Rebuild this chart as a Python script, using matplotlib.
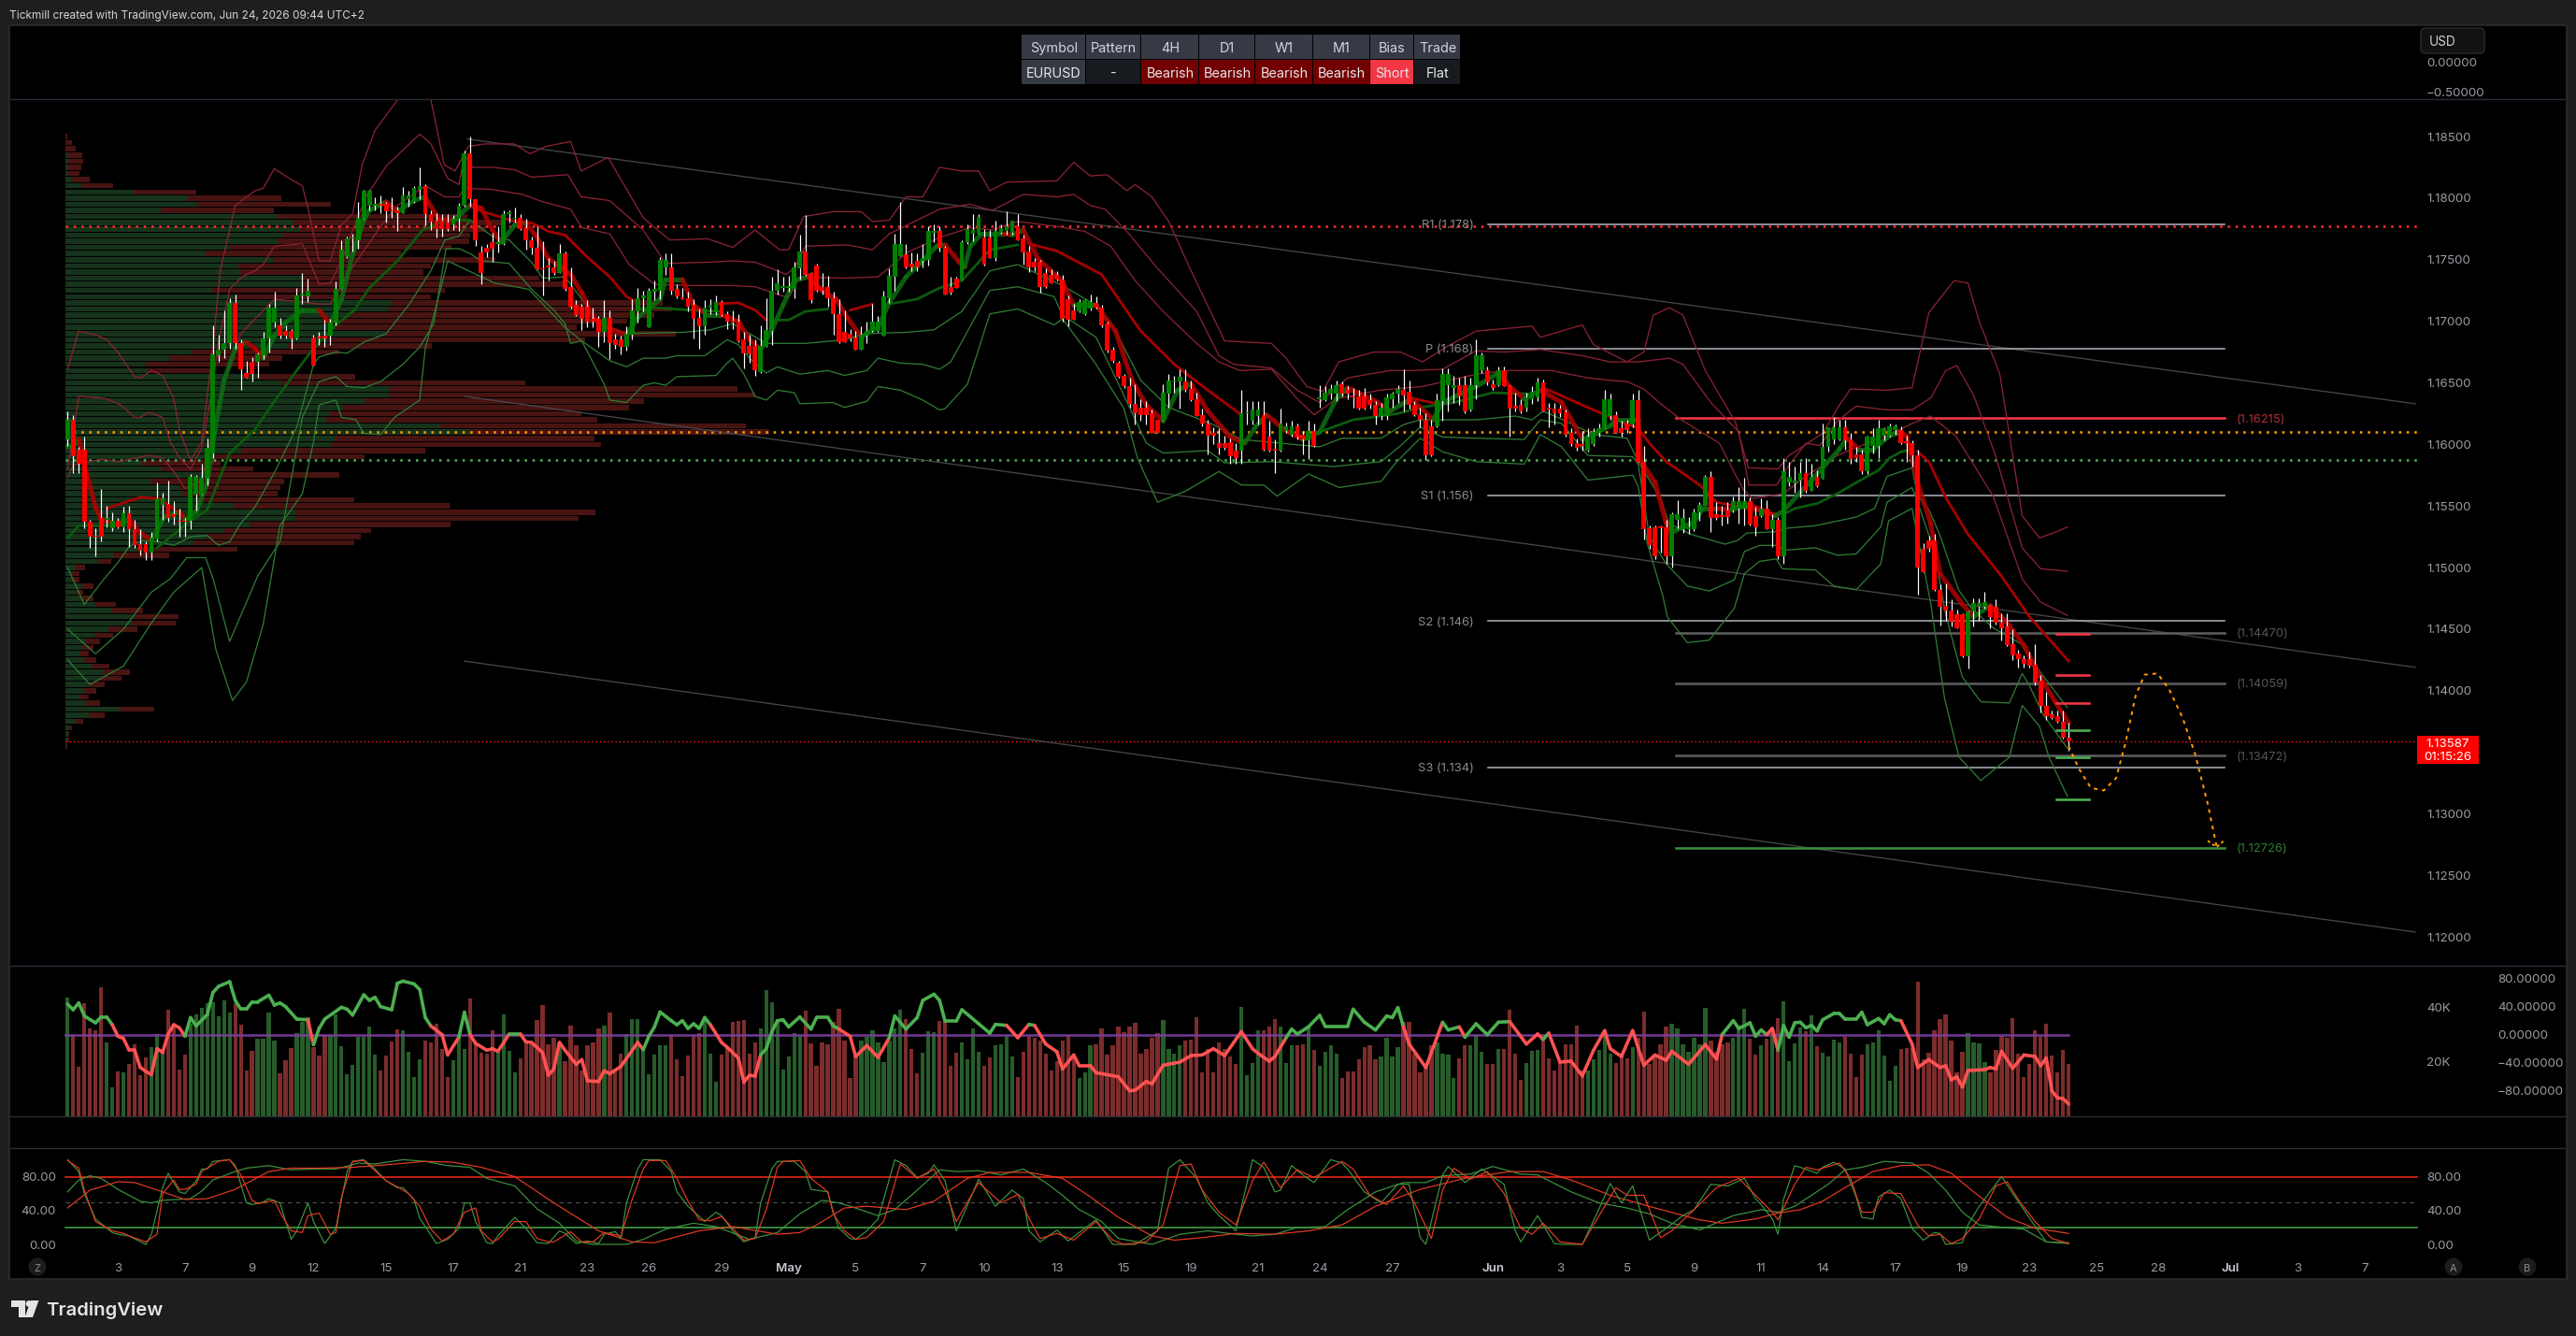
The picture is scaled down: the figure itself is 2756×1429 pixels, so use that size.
import matplotlib
matplotlib.use("Agg")
import matplotlib.pyplot as plt
from matplotlib.collections import LineCollection
from matplotlib.patches import Rectangle, Circle, Polygon, FancyBboxPatch
import numpy as np

plt.rcParams['font.family'] = ['Inter', 'DejaVu Sans']

# prices are written as tenths of a pip above 1.1 (620 -> 1.1620)
opens = [604,620,596,596,537,526,540,539,532,538,
 533,544,531,519,519,512,523,551,552,543,
 538,538,538,559,559,572,593,672,677,682,
 715,682,658,667,667,672,686,699,697,692,
 692,686,721,720,687,687,688,688,699,726,
 752,767,766,783,794,794,795,795,790,790,
 788,799,797,807,810,787,782,782,780,779,
 783,794,836,799,756,760,764,763,763,787,
 783,784,776,766,760,743,745,744,739,755,
 728,713,712,712,702,702,691,703,685,685,
 679,689,708,719,695,724,725,744,744,726,
 719,719,713,703,696,711,707,716,706,700,
 700,685,680,680,659,679,692,725,727,727,
 726,743,757,739,745,728,728,719,706,691,
 690,687,677,688,692,692,688,719,736,753,
 754,747,749,749,750,772,773,760,728,735,
 734,764,771,771,768,768,751,772,773,772,
 777,767,757,748,748,739,738,738,734,718,
 709,708,706,710,715,711,698,677,666,656,
 647,633,630,630,625,620,619,641,651,651,
 651,645,637,624,617,609,601,601,602,595,
 595,625,619,623,624,606,596,595,611,608,
 615,608,603,611,637,636,641,641,649,644,
 639,639,639,636,632,623,623,637,641,644,
 643,632,624,620,615,615,635,648,646,648,
 648,628,648,660,660,649,648,660,647,631,
 632,630,637,638,650,630,629,629,626,609,
 601,600,595,600,609,613,623,624,613,617,
 616,636,586,532,533,533,533,509,539,531,
 531,531,545,550,574,543,542,546,546,548,
 548,554,542,542,548,531,539,509,569,568,
 571,577,562,574,572,598,604,604,614,604,
 592,592,578,599,599,607,607,612,612,602,
 601,591,515,522,522,482,469,465,462,462,
 428,464,468,468,469,468,455,452,438,430,
 426,426,421,408,388,381,379,375,362]
highs = [627,624,598,606,539,532,564,550,545,540,
 549,550,539,531,521,529,569,561,571,554,
 548,540,576,575,584,605,697,689,709,719,
 722,685,668,671,675,691,714,724,703,697,
 694,727,739,735,689,691,701,702,732,766,
 769,771,797,807,807,801,802,797,801,793,
 809,806,810,825,811,790,788,787,787,786,
 796,839,850,799,761,763,772,777,790,790,
 792,787,783,769,777,765,751,749,763,757,
 744,717,714,717,711,704,717,709,690,688,
 696,718,727,725,727,733,752,755,755,730,
 727,724,718,710,717,718,721,717,708,709,
 706,691,689,685,697,719,736,742,736,737,
 748,770,786,740,747,739,737,724,718,709,
 694,692,696,700,714,704,725,743,771,797,
 763,756,755,763,777,779,777,761,736,736,
 766,779,787,787,775,774,782,779,789,782,
 787,770,761,751,750,743,742,741,738,721,
 714,718,718,722,720,713,700,679,668,657,
 654,649,637,635,628,620,649,657,656,661,
 661,652,642,629,620,614,613,607,605,601,
 644,635,635,635,635,619,604,629,618,619,
 617,611,619,617,648,647,649,652,651,647,
 646,644,646,641,635,634,641,643,648,661,
 652,635,630,625,620,641,662,662,656,654,
 656,654,685,675,663,653,663,663,648,642,
 637,642,647,654,653,634,634,632,628,613,
 605,611,613,613,617,644,641,627,619,620,
 641,644,599,534,534,534,539,545,555,548,
 541,548,553,575,578,553,550,553,558,565,
 573,557,549,556,555,543,541,589,586,582,
 586,589,584,579,617,614,622,620,620,609,
 598,596,607,613,620,614,617,616,615,607,
 603,596,520,526,527,486,487,474,466,463,
 465,475,475,480,470,474,463,463,450,433,
 429,432,438,413,399,384,384,384,374]
lows = [599,577,577,532,516,509,521,533,530,532,
 529,517,516,510,506,506,521,539,537,535,
 525,525,531,546,559,567,589,667,670,678,
 678,644,654,651,654,669,675,695,686,686,
 678,685,714,716,664,681,679,681,697,726,
 751,757,759,783,790,790,788,780,784,773,
 788,793,796,799,778,774,768,769,773,774,
 773,793,793,761,730,752,748,756,762,780,
 780,774,758,754,742,721,733,738,739,725,
 710,704,693,695,695,679,683,669,678,673,
 676,685,699,708,695,717,718,738,722,719,
 718,708,686,678,689,706,705,704,694,694,
 683,662,666,656,658,679,681,722,724,724,
 719,734,737,715,724,722,712,689,682,683,
 684,677,677,682,691,691,688,715,725,753,
 743,741,741,744,745,764,757,722,722,727,
 734,763,765,771,745,751,749,771,770,770,
 766,746,740,741,723,727,731,733,700,696,
 701,707,705,709,710,695,675,666,654,646,
 630,616,619,616,609,609,619,630,642,629,
 643,635,623,615,592,600,592,596,584,584,
 584,616,616,616,595,594,577,594,609,606,
 604,592,588,598,630,635,637,635,639,637,
 630,628,628,629,616,620,620,630,634,627,
 629,623,614,587,590,614,619,627,634,632,
 625,627,637,658,648,644,647,647,606,627,
 625,627,633,635,627,614,616,622,606,599,
 595,595,594,599,606,613,620,609,606,609,
 614,586,523,515,507,512,503,500,532,528,
 527,530,538,550,529,539,534,536,545,536,
 534,534,526,541,531,517,507,503,566,561,
 557,561,562,565,572,594,600,603,596,584,
 586,576,576,593,589,603,606,608,600,586,
 582,478,496,513,481,453,457,452,451,427,
 418,452,457,467,451,454,441,436,425,419,
 419,419,404,382,376,377,374,361,351]
closes = [620,590,584,537,525,525,525,540,538,533,
 544,531,518,514,512,524,556,556,540,541,
 537,537,574,574,573,597,673,677,682,715,
 682,661,654,657,673,686,711,711,688,688,
 686,721,722,725,664,686,686,699,726,758,
 767,768,784,806,806,795,794,789,789,788,
 802,802,808,810,787,781,775,775,775,783,
 794,836,799,766,739,756,759,764,787,788,
 784,775,766,760,742,742,744,739,755,726,
 712,705,702,700,700,691,703,682,681,679,
 690,709,719,721,725,726,750,750,725,720,
 718,712,702,696,711,713,716,705,700,699,
 684,674,673,660,680,693,725,731,728,728,
 744,757,738,717,725,725,719,706,683,683,
 686,677,689,692,700,700,720,737,763,763,
 744,744,744,751,773,773,760,722,723,727,
 764,775,774,785,746,751,773,776,777,782,
 766,756,744,744,728,728,731,734,702,701,
 701,716,717,716,711,697,676,668,655,647,
 633,625,624,624,609,609,642,652,652,655,
 644,636,623,617,607,607,597,597,590,589,
 625,626,628,628,596,595,595,617,615,615,
 606,604,611,599,638,642,645,648,641,641,
 638,629,629,632,623,630,638,641,645,640,
 632,624,620,591,591,636,657,657,648,639,
 627,648,672,672,650,646,660,647,629,629,
 627,638,643,650,627,628,625,625,608,600,
 597,599,606,610,613,637,637,609,609,612,
 636,586,531,518,509,532,509,543,543,540,
 533,545,551,574,540,540,541,541,554,554,
 554,535,533,548,531,539,509,578,574,571,
 577,562,574,566,598,614,614,614,603,588,
 589,578,606,606,613,613,615,615,601,601,
 591,500,496,515,482,468,465,456,451,428,
 464,471,471,472,460,455,451,437,429,426,
 422,420,407,388,379,378,375,362,358.7]

# tick volume in thousands, one value per candle
volumes = [43.5,29.7,18.2,41.6,32.2,31.7,47.3,27.1,10.5,16.5,
 16.1,19.3,26.3,15.1,21.6,25.4,30.2,24.8,39.1,32.8,
 17.1,22.7,33.9,37.4,39.7,41.4,41.9,36.8,42.5,37.9,
 41.4,33.6,16.8,23.9,28.5,28.6,37.9,27.7,15.7,20.6,
 25,30.5,34.5,36.2,25.4,22.3,29.7,29.7,37.4,25.6,
 15.4,18.9,29.1,29.1,32.8,22.5,16.8,22.2,27.4,31.9,
 31.4,23.7,14.3,20.8,27.7,27.1,33.9,24.8,14.3,20.6,
 29.9,24.8,43.1,26.5,23.3,23.1,31.7,23.7,37.4,24,
 16.2,21.4,27.1,26.5,35.4,40.8,26.5,28.8,27.1,20.2,
 33.1,25.9,16.8,26.2,27.1,32.2,33.1,37.9,16.8,22.9,
 30.2,35.7,35.7,25.4,15.4,22.5,25.9,25.9,29.9,20.8,
 14.7,22.2,29.4,30.5,36.2,22.9,12.8,22.5,25.4,34.5,
 35.1,35.4,22.9,27.1,32.2,46.2,41.9,35.3,17.1,21.9,
 30.5,29.9,38.7,26.7,18.5,27.1,26.5,34.5,39.4,
 27.7,13.9,23.1,27.7,29,31.7,27.1,19.9,27.7,32.2,
 39.1,35.7,24.7,15.7,23.3,31.1,30.9,35.1,35.1,18.5,
 23.3,27.1,20.8,32.2,23.7,18.5,21.6,25.9,26.5,29.4,
 21.9,14.5,23.7,29.4,28.8,
 27.7,23.1,16.8,20.2,27.7,29.4,22.5,13.9,16.2,25.9,
 26.5,32.2,22.5,25.9,32.8,30.9,32.8,34.2,23.1,24.8,
 28.8,30.5,35.3,24.8,23.1,25.9,27.7,28.2,36.2,16.2,
 24.8,16.2,27.1,24.8,21.9,19.1,40.2,15.1,19.7,31.7,
 31.7,32.8,35.7,32.8,19.7,26.2,25.9,26.5,32.8,24.2,
 18.5,23.7,25.9,23.1,13.9,16.5,16.5,20.8,25.4,25.9,
 20.8,21.9,28.8,21.9,25.4,34.5,34.5,23.1,16.2,18.5,
 25.9,27.1,23.1,22.5,13.9,21.4,26.2,25.9,29.9,23.7,
 19.1,19.1,24.8,24.8,39.1,23.1,13.4,19.7,23.9,24.2,
 28.8,21.4,16.8,19.9,26.3,26.5,33.4,16.8,16.8,20.8,
 24.2,30.5,23.1,19.7,23.1,21.4,25.4,28.8,38.5,19.1,
 22.5,26.5,32.8,33.9,32.2,26.5,23.7,28.8,26.5,39.7,
 27.7,23.7,26.5,27.1,
 28.8,33.4,39.4,28.6,22.5,25.9,28.5,32.5,36,42.2,
 20.2,26.7,32.5,31.3,37,25.7,23.3,21.9,28.1,27.1,
 29.1,23.1,14.4,22.7,26.5,27.1,31.5,22.3,13,18.5,
 24.8,25,25,49.4,
 20.8,23.3,31.5,35.7,37.4,27.9,16.2,23.7,30.5,27.1,
 26.7,19.9,16.2,24.5,29.4,28.8,36,23.1,14.4,19.1,
 31.5,29.3,33.9,22.3,16.2,24.5,19.2]

# volume profile, one row per 5 pips going down from 1.1850
profile_up = [0,0,0,3,3,3,3,6,17,73,131,141,102,227,244,251,232,227,175,150,
 222,185,187,253,255,157,182,349,346,303,274,289,343,280,237,135,111,85,88,205,
 231,346,346,320,297,283,279,401,433,289,284,188,159,82,102,154,91,122,125,142,
 180,246,246,198,170,151,137,95,52,35,10,6,6,
 18,11,18,32,50,73,71,46,31,22,18,15,20,28,41,36,25,20,15,22,57,25,11,4,2,2,1]
profile_total = [2,7,11,18,19,17,15,26,51,140,231,284,223,430,467,450,433,432,413,359,
 460,391,383,507,533,406,391,639,649,630,601,547,653,556,392,293,232,218,154,310,
 492,719,738,619,603,552,569,728,753,566,573,385,320,166,201,293,234,230,227,309,
 411,567,549,412,327,316,309,184,111,49,21,15,15,
 30,19,30,54,83,121,118,77,51,37,30,25,33,47,69,60,42,33,25,37,95,42,19,7,4,4,2]

# envelope bands above and below price: (bar, price)
upper_1 = [(0,573),(1,583),(6,588),(9,586),(14.5,591),(17,589),(19,578),(21,564),(24,571),(26,612),
 (28,652),(31,690),(37,718),(45,714),(47,714),(51,744),(56,777),(59,794),(64,810),(67.5,801),
 (70,801),(71,808),(76,807),(81.4,803),(85,797),(90,791),(92,776),(97,771),(100.5,746),(105,730),
 (111,729),(115,729),(119,729),(123,728),(127,722),(129,719),(131,736),(139,735),(145,736),(150.3,756),
 (156,768),(161.5,776),(165.4,774),(170,781),(177,777),(182,773),(186.6,761),(191,733),(196,708),(202,682),
 (206,667),(209.7,660),(215.4,661),(220,637),(223,624),(227,637),(234.7,644),(242.4,647),(252,657),(257.7,660),
 (265.4,660),(272,654),(276,652),(279,651),(282,645),(285,633),(288.7,620),(295.5,601),(299.7,564),(301.4,556),
 (307,560),(311,574),(316.6,591),(322,601),(327.8,612),(330,617),(333.3,623),(337.8,607),(344.5,558),(349.8,490),
 (353,472),(357.8,461)]
upper_2 = [(0,580),(2,639),(5,638),(7,637),(9.5,632),(12,622),(13,622),(14.5,626),(17,622),(18.4,602),
 (20,589),(22,580),(24,597),(25.7,640),(27,683),(29,726),(31.2,736),(33.5,741),(35,746),(37,761),
 (42,763),(45,730),(47,731),(49,749),(51,774),(53.5,802),(57,826),(63,852),(65,844),(68,816),
 (70,811),(71,835),(72.5,825),(76,825),(80,823),(83,817),(89.5,819),(91.9,801),(97,798),(103,774),
 (107,747),(115,748),(119,749),(123,748),(127,741),(128.5,738),(130,743),(132,761),(139.6,762),(144,758),
 (147,771),(156,791),(161.5,795),(165.4,790),(171,803),(177,801),(180,803),(183,794),(185.6,791),(189.5,773),
 (195,743),(202,708),(206,672),(208.7,665),(215.4,662),(220,644),(224,634),(229,654),(236.6,660),(240.4,660),
 (246,661),(252,676),(257,675),(263.5,677),(271,672),(276,667),(281,667),(286.6,670),(289,665),(294,634),
 (299,610),(300.8,567),(305.8,567),(307,577),(311,601),(313.5,599),(316.6,619),(320,631),(325.5,628),(330,628),
 (333.4,638),(336,660),(338,664),(341,640),(345,590),(349.7,516),(353,499),(357.8,497)]
upper_3 = [(0,661),(2,692),(5,689),(7,685),(9,675),(10,668),(12,655),(13,654),(15,660),(17,656),
 (19,637),(20,612),(22,587),(24,602),(26,678),(27.3,741),(30,794),(33.5,806),(35,808),(37,824),
 (39.3,817),(42,810),(43,792),(45,749),(47,749),(49,778),(51,787),(52.7,827),(55,855),(59.7,884),
 (64.8,884),(67.4,827),(69.3,822),(71.7,842),(74.6,844),(79.9,844),(82.7,836),(85.6,842),(90,846),(91.9,822),
 (96.7,833),(103,784),(107.7,766),(114.5,767),(119,760),(123,774),(127.4,758),(129,758),(131.7,785),(137,789),
 (142,789),(144,781),(147,782),(150,801),(153,801),(156,825),(160,822),(163,822),(165,806),(168,813),
 (177,814),(180,829),(183,818),(186,819),(189.5,806),(191,811),(194,801),(197,781),(201,741),(205,703),
 (207,684),(215.4,682),(218,670),(221.7,647),(224.6,643),(227.4,667),(233.7,675),(238.5,675),(242.4,667),(247,680),
 (252,692),(262,696),(263.5,687),(271,697),(273,681),(279,667),(282,675),(283.7,705),(286.6,711),(289,705),
 (293,660),(298.4,618),(300.7,581),(306,580),(308,591),(314,609),(317,632),(319,645),(325.5,644),(330,646),
 (333,707),(337.5,733),(340,731),(342,700),(345.7,657),(349.7,542),(352.8,524),(355.8,529),(357.8,533)]
lower_1 = [(0,500),(3,470),(6.4,490),(9,504),(11,517),(13.4,522),(16,521),(19,518),(22,525),(25,526),
 (27,518),(29,521),(31,536),(33.5,549),(37,577),(41,614),(44,665),(45,671),(48,675),(50,674),
 (53,683),(57,690),(61,713),(65,741),(67.5,766),(70,769),(72,782),(76,769),(79,766),(83,748),
 (85,735),(89,736),(92,718),(95,698),(100,690),(110,691),(115,693),(119,698),(125,682),(132,682),
 (139,685),(143,690),(150,691),(155,693),(160,708),(165,741),(170,746),(178,729),(184,713),(187.5,692),
 (192,652),(197,630),(205,616),(210,604),(224,598),(228,605),(235,605),(239,616),(242,620),(252,620),
 (259,623),(262,620),(264,627),(268,619),(273,608),(279,605),(281,586),(282.6,574),(285,556),(286.5,536),
 (290.4,527),(296.5,519),(298.8,522),(300.4,528),(305.4,529),(307.7,532),(312.7,534),(320,541),(323.3,548),(325.5,574),
 (330,581),(331,558),(333,547),(335,526),(338.3,482),(340.6,467),(344.5,451),(349.5,438),(352.3,419),(357.8,386)]
lower_2 = [(0,450),(5,430),(10,450),(15,480),(18.4,491),(21.3,508),(24.7,508),(26.1,490),(29,440),(34,493),
 (38,521),(42,622),(45,651),(48,655),(50,647),(53,646),(56,651),(60,665),(63,679),(65.5,698),
 (67.7,759),(70,759),(72,755),(74,749),(79,747),(83,726),(87,709),(89,698),(90,682),(92,684),
 (97,668),(100,663),(103,670),(107,670),(109,672),(114,672),(118,685),(120,681),(122,670),(125,658),
 (127,663),(131,657),(136,660),(139,656),(143,660),(145,670),(149,666),(153,665),(156,661),(158,667),
 (162,700),(165,725),(170,728),(176.5,720),(178,705),(184,687),(187.5,654),(193,601),(196,593),(204,595),
 (207,585),(215.4,586),(221,584),(226.5,582),(235,586),(238.5,599),(242,614),(246,606),(252,605),(260.6,604),
 (263.5,620),(267.3,617),(272,591),(280,590),(281,584),(283,525),(286,503),(289.8,485),(293.7,481),(298.2,490),
 (300,513),(302.7,518),(306,518),(307,514),(312.7,516),(316.6,510),(320,511),(324.4,533),(325.5,553),(330,565),
 (331,553),(334,513),(336,462),(339,411),(342.3,391),(347.4,390),(349.7,414),(351,404),(353.4,381),(357.8,353)]
lower_3 = [(0,425),(4,405),(10,420),(15,455),(19,480),(24,500),(26.5,434),(29.5,392),(32,407),(35,454),
 (38,534),(42,560),(44,602),(45,632),(48,636),(49,622),(51.6,620),(53,609),(56,608),(58.5,622),
 (63,636),(64,678),(67,731),(68,749),(73.6,737),(76.4,731),(82.5,726),(89,695),(92,684),(96,649),
 (97,636),(100,634),(103,648),(105,650),(107,648),(109,655),(116,656),(118,666),(119,670),(121,657),
 (123,639),(125,636),(127,644),(130,642),(131,633),(137,634),(139,630),(143,635),(145,647),(149,644),
 (153,636),(156,628),(157,629),(161,649),(165,706),(170,710),(176.5,697),(178,702),(184,665),(189,629),
 (191.4,589),(195,553),(200,562),(206,578),(210,567),(214,567),(216.4,558),(222,576),(227.5,565),(235,570),
 (237.6,585),(242,605),(246,594),(252,586),(260.6,584),(263.5,608),(267.3,598),(272,571),(280,575),(281,566),
 (282.6,520),(285.4,477),(286.2,460),(289.8,439),(293.7,441),(298.2,467),(300,495),(302.7,505),(305.7,507),(306.8,499),
 (312.7,498),(316,485),(320,482),(324.4,503),(325.8,538),(330,548),(333.3,472),(335.8,394),(338.4,346),(342.3,327),
 (347.4,346),(349.7,388),(352.8,371),(354.5,346),(357.8,314)]

# slower averages; each stretch is drawn on its own
basis_red = [
 [(7,548),(13,557),(16.5,556),(21,541)],
 [(73,791),(80,781),(83,780),(86,773),(89,770),(93,752),(97,736),(100,720),(102,715)],
 [(116,714),(120,715),(123,709),(125,701)],
 [(140,709),(144,714)],
 [(172,763),(177,757),(185,738),(192,692),(198,665),(204,644),(210,624)],
 [(240,638),(245,633)],
 [(264,646),(267,640),(275,624),(281,613),(283,601),(286,586),(292,567),(295,553),(306,543)],
 [(331,594),(333,586),(336,557),(340,527),(346,493),(351,460),(358,424)]]
basis_green = [
 [(0,524),(2,534),(8,534)],
 [(16,516),(22,538),(25,547),(29,593),(33.5,612),(37,635),(41,660),(44,678),(48,697),(51.3,709),
  (54,727),(59,749),(63.5,774),(67.5,782),(72,782)],
 [(102,710),(105,711),(108,710),(112,709),(117,708)],
 [(127,701),(129,701),(132,708),(136,710)],
 [(147,714),(152,718),(156,727),(160,733),(165,758),(170,762)],
 [(224,610),(230,620),(238,625),(242,630),(248,634),(255,642),(261.5,641)],
 [(307,543),(309,548),(313,552),(317,561),(320,569),(324,579),(326,589),(328,594),(330,596)]]

# fast average hugging the candles
fast_avg = [(0,598),(1,599),(2,604),(3,584),(5,549),(6,539),(9,535),(11,539),(13,528),(15,522),
 (17.3,541),(20,545),(21,539),(23,545),(25,569),(26,602),(28,652),(30,678),(32,683),(33.5,678),
 (35,670),(37,688),(39,699),(42,709),(45,709),(47,698),(49,718),(51,754),(53,782),(54,790),
 (57,797),(59,789),(62,798),(64,801),(66.4,783),(69,782),(72,794),(74,792),(76,774),(77.5,764),
 (80,778),(82,780),(84,768),(86,751),(90,738),(92,723),(94,703),(97,694),(100,689),(102,703),
 (106,718),(107,734),(110,734),(112,713),(114.5,705),(117,705),(120,700),(122,685),(124,677),(126,693),
 (128,713),(130,733),(132.5,736),(135,725),(137.5,718),(139.5,703),(142,687),(143,690),(145,695),(147,715),
 (150,736),(152.5,747),(155.5,761),(157,762),(159.5,748),(160.5,744),(161.5,761),(163.5,771),(167.5,771),(169,770),
 (171,774),(173.6,751),(178,732),(180,713),(184,713),(187.5,692),(190.4,652),(193,632),(196,619),(198.6,644),
 (201,649),(204,627),(208,606),(210.6,601),(212.5,614),(214.5,624),(218,611),(221,604),(224,610),(227,637),
 (229,646),(234,635),(236.6,627),(240.4,637),(244.3,620),(246,634),(252,647),(256,658),(258,647),(260.6,637),
 (263.5,644),(267.3,634),(271,604),(276,615),(277,620),(281,620),(281.5,586),(284,569),(286,536),(287,528),
 (288,531),(291,537),(292.6,548),(295,548),(297.7,547),(301,551),(305.5,542),(307,546),(310,561),(314,581),
 (317,596),(318.3,605),(320.5,596),(323,596),(326,607),(327.8,610),(329,607),(331,569),(333.3,536),(335,495),
 (339,470),(341,460),(344,469),(347,455),(350,437),(352.8,412),(355.6,391),(358,374)]

# oscillator plotted over the volume bars
osc_line = [(0,43.6),(1,35.6),(2,45.3),(3,26.7),(5,16.9),(6,25.3),(7,25.3),(8,14.2),(9,-2.2),(10,-5.3),
 (11,-22),(12,-22),(13,-46.7),(14,-52.4),(15,-56.9),(16,-20),(17,-25.3),(18,0.9),(19,14.2),(20,9.8),
 (21,-2.2),(22,24.4),(23,12.4),(25,28.9),(26,60),(27,68.9),(29,75.6),(30,48.9),(31,36.4),(32,36.4),
 (33,46.7),(34,46.7),(36,56.4),(37,42.2),(38,45.3),(39,40),(41,22.2),(43,21.3),(44,-14.2),(45,8.9),
 (46,22.2),(49,39.1),(50,36.4),(51,28),(53,56.9),(54,48.9),(55,53.3),(56,40),(58,35.6),(59,73.3),
 (60,76.4),(62,72.4),(63,64.4),(64,24.4),(65,12.4),(67,0),(68,-28.9),(70,-3.6),(71,32),(72,0),
 (73,-12.4),(75,-22.2),(76,-20),(77,-23.6),(79,0.9),(81,0.9),(82,-10.2),(83,-11.1),(85,-25.8),(86,-57.8),
 (87,-48.9),(88,-11.1),(89,-22.2),(91,-42.2),(92,-35.6),(93,-65.8),(95,-66.7),(96,-51.6),(97,-55.6),(99,-45.3),
 (102,-11.1),(103,-21.3),(104,-2.2),(105,11.1),(106,32.4),(108,20),(109,14.2),(110,20),(111,8.9),(112,15.6),
 (113,8.9),(114,24.4),(115,14.2),(117,-11.1),(118,-17.8),(120,-33.3),(121,-67.6),(122,-57.8),(123,-59.1),(124,-28.9),
 (125,-20),(126,4.4),(127,20),(128,21.3),(129,11.1),(131,25.3),(133,8),(134,24.4),(136,24.4),(137,12.4),
 (138,8),(140,-2.2),(141,-31.1),(143,-15.6),(145,-32.4),(147,-4.4),(148,26.7),(150,8),(152,24.4),(153,48.9),
 (155,57.8),(156,48.9),(157,19.1),(159,19.1),(160,35.6),(163,15.6),(165,2.2),(166,14.7),(168,13.3),(170,-4.4),
 (172,14.7),(173,13.3),(175,-13.3),(177,-24.4),(178,-48.9),(180,-28.9),(181,-44.4),(183,-44.4),(184,-54.2),(188,-60),
 (190,-80),(191,-79.1),(193,-66.7),(194,-70.2),(196,-43.6),(199,-39.1),(201,-29.8),(203,-28.9),(205,-20),(207,-29.8),
 (210,4.4),(212,-20),(213,-26.7),(215,-37.8),(216,-31.1),(218,-4.4),(219,8),(220,0.9),(222,11.1),(224,27.6),
 (225,12),(229,12),(230,36.4),(232,17.8),(234,6.7),(236,26.7),(237,24.4),(238,38.7),(239,11.1),(240,-13.3),
 (243,-46.7),(246,17.8),(247,6.7),(249,11.1),(250,-3.6),(252,15.6),(254,0),(256,17.8),(258,18.7),(261,-13.3),
 (263,0.9),(264,-6.7),(265,2.2),(267,-39.1),(269,-37.8),(271,-58.7),(273,-22.2),(275,5.8),(276,-20),(278,-31.1),
 (280,5.8),(282,-43.6),(284,-28.9),(286,-36.4),(287,-23.6),(290,-42.2),(293,-14.2),(295,-34.7),(296,0),(298,20),
 (299,8.9),(301,16.9),(302,-2.2),(303,6.7),(304,0),(305,8.9),(306,-22.2),(307,13.3),(308,-3.6),(309,16.9),
 (310,17.8),(311,9.8),(312,13.3),(313,5.3),(314,21.3),(316,30.2),(317,30.2),(318,22.2),(320,22.2),(321,32),
 (322,14.2),(324,23.1),(325,15.6),(326,28.4),(327,21.3),(328,20),(330,-13.3),(331,-46.7),(333,-35.6),(335,-46.7),
 (336,-44.4),(337,-64.4),(338,-60),(339,-74.7),(340,-51.1),(343,-49.8),(344,-46.7),(345,-48.9),(346,-23.6),(348,-48),
 (350,-28.9),(352,-31.1),(353,-44.4),(354,-33.3),(355,-80),(356,-90.2),(357,-91.1),(358,-98.7)]
osc_red_spans = [(8,21),(43,44),(65,70),(72,78),(81,103),(115,124),(138,147),(169,171),(173,209),(210,217),
 (239,245),(249,250),(258,264),(265,274),(275,279),(280,296),(304,306),(329,358)]

# stochastic pair, fast and slow
stoch_fast_k = [(0,100),(2,86),(3,60),(5,30),(8,14),(9,12),(11,10),(14,0),(15,12),(17,67),(18,84),(19,73),(20,62),(21,60),
 (23,75),(24,89),(25,89),(26,98),(29,100),(30,93),(32,49),(33,47),(35,50),(36,54),(38,49),(40,6),(41,16),(43,49),
 (44,27),(46,1),(48,19),(50,86),(51,98),(53,100),(55,89),(57,75),(59,67),(60,67),(62,53),(63,31),(66,1),(68,6),
 (70,19),(71,49),(72,49),(73,27),(75,2),(76,1),(77,10),(80,32),(82,19),(84,2),(86,1),(88,16),(89,13),(91,1),
 (93,4),(95,1),(96,12),(98,15),(99,7),(100,49),(102,89),(103,100),(106,100),(108,86),(109,62),(111,45),(114,27),(116,38),
 (117,34),(119,16),(121,3),(123,8),(124,49),(126,89),(127,98),(130,98),(132,86),(133,65),(136,62),(137,38),(138,19),
 (140,7),(141,6),(143,16),(145,30),(148,100),(150,93),(152,79),(154,84),(155,94),(157,75),(159,16),(163,77),(166,45),(169,64),
 (171,54),(172,16),(174,3),(177,17),(179,4),(182,19),(184,29),(187,0),(191,0),(195,16),(197,90),(199,100),(202,78),(204,49),
 (206,34),(209,16),(212,100),(214,91),(216,62),(217,64),(219,93),(221,82),(223,73),(226,100),(228,96),(229,89),(232,62),(235,49),
 (238,71),(240,71),(242,8),(243,0),(246,82),(247,92),(250,73),(253,89),(257,71),(259,16),(260,3),(263,34),(266,1),(268,0),
 (271,0),(274,42),(276,72),(278,49),(280,69),(283,5),(286,19),(289,34),(291,41),(294,71),(297,69),(300,78),(302,54),(303,47),
 (305,30),(306,12),(307,53),(309,93),(310,91),(313,84),(314,91),(316,97),(318,89),(320,56),(321,32),(323,30),(324,56),(326,64),
 (328,54),(330,19),(332,5),(334,14),(335,13),(336,0),(339,2),(340,23),(342,45),(346,80),(348,60),(350,41),(351,31),(354,3),(358,1)]
stoch_fast_d = [(0,99),(2,90),(3,64),(5,27),(8,16),(10,13),(11,10),(14,3),(16,12),(17,60),(19,76),(20,65),(21,65),(23,71),
 (24,86),(27,98),(29,100),(31,82),(33,52),(34,48),(37,52),(38,38),(40,16),(42,14),(43,34),(45,37),(47,12),(48,14),
 (49,56),(51,98),(53,99),(55,87),(57,75),(59,68),(61,60),(63,45),(65,18),(67,4),(69,12),(71,38),(73,43),(74,16),
 (76,3),(77,6),(80,27),(82,27),(84,7),(86,3),(87,3),(90,15),(92,3),(94,3),(96,14),(99,10),(101,53),(103,89),
 (104,99),(107,99),(109,78),(111,51),(113,29),(115,28),(117,33),(119,19),(121,5),(123,7),(125,41),(127,91),(128,98),(131,99),
 (133,78),(136,62),(137,36),(139,16),(141,6),(143,8),(146,27),(149,95),(152,78),(155,89),(157,64),(159,27),(163,73),(167,49),
 (170,59),(172,31),(174,7),(177,13),(180,5),(184,27),(187,5),(189,0),(193,3),(196,23),(199,93),(201,95),(203,64),(206,38),
 (209,23),(212,75),(214,97),(217,67),(220,88),(223,79),(228,98),(230,89),(233,58),(236,47),(239,69),(241,49),(244,7),(246,64),
 (248,90),(251,77),(254,86),(257,60),(260,19),(262,12),(264,25),(267,3),(271,0),(273,23),(277,67),(279,58),(282,58),(285,8),
 (287,16),(291,41),(295,67),(299,78),(302,58),(305,38),(306,29),(309,71),(311,91),(313,88),(317,96),(319,78),(321,38),(323,38),
 (325,61),(328,60),(331,23),(333,10),(335,12),(337,1),(339,7),(342,30),(345,69),(347,74),(349,53),(352,27),(355,7),(358,1)]
stoch_slow_k = [(0,62),(2,76),(4,81),(6,78),(9,65),(13,51),(15,49),(17,52),(22,54),(24,63),(26,76),(30,86),(32,90),(36,93),
 (40,88),(44,89),(48,89),(52,96),(55,95),(60,100),(64,98),(68,93),(72,91),(75,78),(80,69),(84,42),(88,25),(91,4),
 (94,0),(100,0),(103,6),(107,18),(112,25),(116,21),(122,6),(127,14),(131,36),(135,52),(138,49),(140,45),(145,34),(148,41),
 (152,64),(156,88),(159,86),(163,87),(167,82),(171,89),(175,73),(178,58),(181,41),(185,27),(188,7),(194,0),(199,12),(204,16),
 (209,12),(212,10),(216,12),(220,20),(225,21),(229,41),(234,62),(239,73),(243,73),(246,81),(251,83),(255,92),(260,83),(263,82),
 (269,62),(274,49),(279,43),(283,36),(287,25),(292,17),(298,34),(303,41),(306,38),(309,45),(312,58),(315,71),(318,88),(321,91),
 (325,98),(330,96),(333,84),(336,64),(339,38),(342,23),(345,21),(350,18),(354,3),(358,2)]
stoch_slow_d = [(0,43),(4,64),(9,74),(12,73),(17,62),(21,53),(25,54),(30,65),(36,86),(40,90),(45,90),(51,91),(57,94),(64,98),
 (69,97),(74,91),(80,80),(87,49),(95,16),(101,3),(105,2),(113,16),(119,21),(127,12),(131,14),(134,23),(139,43),(143,45),
 (150,41),(155,51),(161,78),(165,85),(172,85),(178,78),(183,56),(188,32),(194,10),(198,5),(203,8),(209,13),(216,12),(222,16),
 (228,23),(234,45),(242,65),(250,78),(258,86),(264,86),(269,76),(276,58),(284,43),(292,29),(296,25),(302,30),(306,37),(310,41),
 (314,51),(318,67),(323,86),(328,93),(333,94),(337,84),(341,62),(347,32),(352,19),(358,13)]

# channel drawn across the chart: ((bar, price), (bar, price))
channel_lines = [((71.5,848),(420,633)),((71,639),(420,419)),((71,424),(420,204))]

# projected path after the last candle
projection = [(358,355),(359.8,337),(362,321),(364.3,319),(366.5,329),(368.2,358),(370,396),(371.6,413),(373.9,414),
 (376,401),(378.4,378),(380.6,349),(382.9,308),(384.5,273)]
projection_tip = [(382.9,278),(384.5,273),(386,279)]

pivot_names = ["R1", "P", "S1", "S2", "S3"]
pivot_values = [1.1779, 1.16777, 1.15585, 1.14567, 1.13377]
level_values = [1.16215, 1.14470, 1.14059, 1.13472, 1.12726]
level_colors = ["#f23645", "#5c5c5c", "#5c5c5c", "#5c5c5c", "#388e3c"]
level_text_colors = ["#b0303a", "#555555", "#555555", "#555555", "#2e7d32"]
dotted_values = [1.1777, 1.1610, 1.1587]
dotted_colors = ["#ff2a2a", "#ff9800", "#4caf50"]
target_values = [1.1446, 1.1413, 1.1390, 1.1368, 1.1346, 1.1312]
target_colors = ["#f23645", "#f23645", "#f23645", "#4caf50", "#4caf50", "#4caf50"]
last_price = 1.13587

price_ticks = [1.185, 1.18, 1.175, 1.17, 1.165, 1.16, 1.155, 1.15, 1.145, 1.14, 1.13, 1.125, 1.12]
date_ticks = [9,21,33,44,57,69,81,93,104,117,129,141,153,164,177,189,201,213,224,237,255,267,279,291,303,314,327,339,351,363,374,387,399,411]
date_labels = ["3","7","9","12","15","17","21","23","26","29","May","5","7","10","13","15","19","21","24","27","Jun","3","5","9","11","14","17","19","23","25","28","Jul","3","7"]

table_header = ["Symbol", "Pattern", "4H", "D1", "W1", "M1", "Bias", "Trade"]
table_row = ["EURUSD", "-", "Bearish", "Bearish", "Bearish", "Bearish", "Short", "Flat"]
table_row_colors = ["#363a45", "#171a1f", "#720000", "#720000", "#720000", "#720000", "#f23645", "#171a1f"]
table_edges = [1093, 1161.6, 1221.4, 1282.6, 1343.3, 1404.5, 1465.6, 1513.4, 1563]

W, H = 2756, 1429
DPI = 200
PX = 72 / DPI          # one pixel in points
BAR_PX = 5.98          # bar spacing in pixels
X0_PX = 72.3           # pixel of bar 0
PANEL_L, PANEL_R = 10, 2746
LINE_END = 420.3       # bar where horizontal guides stop
BG = "#1e1e1e"
LABEL = "#9a9ca3"
MID = "center_baseline"

XLIM = ((PANEL_L - X0_PX) / BAR_PX, (PANEL_R - X0_PX) / BAR_PX)


def to_price(v):
    return 1.1 + np.asarray(v, dtype=float) / 10000


def split(points):
    arr = np.array(points, dtype=float)
    return arr[:, 0], arr[:, 1]


def make_pane(top, bottom, ylim):
    ax = fig.add_axes([PANEL_L / W, 1 - bottom / H, (PANEL_R - PANEL_L) / W, (bottom - top) / H])
    ax.set_facecolor("black")
    ax.set_xlim(*XLIM)
    ax.set_ylim(*ylim)
    ax.set_xticks([])
    ax.set_yticks([])
    for s in ax.spines.values():
        s.set_visible(False)
    return ax


def band(ax, points, color, width, to_p=True, **kw):
    x, y = split(points)
    ax.plot(x, to_price(y) if to_p else y, color=color, lw=width * PX, solid_joinstyle="round", **kw)


fig = plt.figure(figsize=(W / DPI, H / DPI), dpi=DPI, facecolor=BG)

ax_top = make_pane(27, 106, (0, 1))
ax_main = make_pane(106, 1033, (1.11766, 1.18804))
ax_vol = make_pane(1033, 1194, (0, 55.2))
ax_osc = make_pane(1033, 1194, (-116.4, 98.3))
ax_osc.patch.set_visible(False)
ax_gap = make_pane(1194, 1228, (0, 1))
ax_sto = make_pane(1228, 1368, (-40.8, 113.7))

# volume profile on the left edge of the price pane
n = len(closes)
bars = np.arange(n)
prof_y = 1.185 - 0.0005 * np.arange(len(profile_up))
prof_up = np.array(profile_up, dtype=float) / BAR_PX
prof_total = np.array(profile_total, dtype=float) / BAR_PX
ax_main.barh(prof_y, prof_total, left=-0.4, height=0.00042, color="#471412", zorder=1)
ax_main.barh(prof_y, prof_up, left=-0.4, height=0.00042, color="#16331b", zorder=1.1)

for v, c in zip(dotted_values, dotted_colors):
    ax_main.plot([-0.4, LINE_END], [v, v], color=c, lw=2.6 * PX, ls=(0, (1, 2.2)), zorder=2)
ax_main.plot([-0.4, LINE_END], [last_price, last_price], color="#ff1a1a", lw=1.4 * PX, ls=(0, (1, 2)), zorder=2)

for a, b in channel_lines:
    ax_main.plot([a[0], b[0]], to_price([a[1], b[1]]), color="#474747", lw=1.3 * PX, zorder=2)

for line in (upper_1, upper_2, upper_3):
    band(ax_main, line, "#8a2233", 1.3, zorder=3)
for line in (lower_1, lower_2, lower_3):
    band(ax_main, line, "#2f7a35", 1.3, zorder=3)

for seg in basis_red:
    band(ax_main, seg, "#a80000", 2.8, zorder=3.5)
for seg in basis_green:
    band(ax_main, seg, "#0c5a0c", 2.8, zorder=3.5)

# fast average: colour follows its direction
fx, fy = split(fast_avg)
fy = to_price(fy)
segs = [[(fx[k], fy[k]), (fx[k + 1], fy[k + 1])] for k in range(len(fx) - 1)]
cols = ["#0b6e12" if fy[k + 1] >= fy[k] else "#b20000" for k in range(len(fx) - 1)]
ax_main.add_collection(LineCollection(segs, colors=cols, linewidths=5 * PX, alpha=0.85, capstyle="round", zorder=4))

# candles
o, h, l, c = to_price(opens), to_price(highs), to_price(lows), to_price(closes)
up = c >= o
body_bottom = np.minimum(o, c)
body_height = np.maximum(np.abs(c - o), 0.00012)
ax_main.vlines(bars, l, h, color="white", lw=1.2 * PX, zorder=5)
ax_main.bar(bars, body_height, bottom=body_bottom, width=0.8, color=np.where(up, "#008000", "#ff0000"), zorder=6)

# pivots and horizontal targets
for name, v in zip(pivot_names, pivot_values):
    ax_main.plot([254.2, 385.9], [v, v], color="#a9abb5", lw=1.6 * PX, zorder=2.5)
    ax_main.text(251.6, v, f"{name} ({v:.3f})", color="#8c8c8c", fontsize=4.7, ha="right", va=MID, zorder=7)
for v, col, tc in zip(level_values, level_colors, level_text_colors):
    ax_main.plot([287.8, 385.9], [v, v], color=col, lw=2.6 * PX, zorder=2.6)
    ax_main.text(388, v, f"({v:.5f})", color=tc, fontsize=4.7, ha="left", va=MID, zorder=7)
for v, col in zip(target_values, target_colors):
    ax_main.plot([355.8, 361.6], [v, v], color=col, lw=2.6 * PX, zorder=6.5)

px, py = split(projection)
ax_main.plot(px, to_price(py), color="#ff9800", lw=2 * PX, ls=(0, (2, 2.5)), zorder=7)
px, py = split(projection_tip)
ax_main.plot(px, to_price(py), color="#ff9800", lw=2 * PX, ls=(0, (1.5, 1.5)), zorder=7)

# volume pane
vol_colors = np.where(up, "#275c2a", "#7b2c2b")
ax_vol.bar(bars, volumes, width=0.72, color=vol_colors)
ax_osc.plot([-0.4, 358], [0, 0], color="#7b3f9e", lw=2.6 * PX, alpha=0.9, zorder=2)
ox, oy = split(osc_line)
segs = [[(ox[k], oy[k]), (ox[k + 1], oy[k + 1])] for k in range(len(ox) - 1)]
cols = []
for k in range(len(ox) - 1):
    mid = (ox[k] + ox[k + 1]) / 2
    is_red = any(a <= mid <= b for a, b in osc_red_spans)
    cols.append("#ff5252" if is_red else "#4caf50")
ax_osc.add_collection(LineCollection(segs, colors=cols, linewidths=3.6 * PX, capstyle="round", zorder=3))

# stochastic pane
ax_sto.plot([-0.4, LINE_END], [80, 80], color="#ff2a1a", lw=1.5 * PX)
ax_sto.plot([-0.4, LINE_END], [20, 20], color="#4caf50", lw=1.5 * PX)
ax_sto.plot([-0.4, LINE_END], [50, 50], color="#555555", lw=1.1 * PX, ls=(0, (4, 4)))
for line, col in ((stoch_slow_k, "#3d9440"), (stoch_slow_d, "#e63a22"), (stoch_fast_k, "#3d9440"), (stoch_fast_d, "#e63a22")):
    band(ax_sto, line, col, 1.2, to_p=False)

# axis texts sit inside the panel, the way the chart platform prints them
label_x = (2596 - X0_PX) / BAR_PX
for p in price_ticks:
    ax_main.text(label_x, p, f"{p:.5f}", color=LABEL, fontsize=4.8, ha="left", va=MID, zorder=8)
for v, txt in ((20, "20K"), (40, "40K")):
    ax_vol.text(label_x, v, txt, color=LABEL, fontsize=4.8, ha="left", va=MID, zorder=8)
osc_label_x = (2672 - X0_PX) / BAR_PX
for v in (80, 40, 0, -40, -80):
    txt = f"{v:.5f}".replace("-", "\u2212")
    ax_osc.text(osc_label_x, v, txt, color=LABEL, fontsize=4.8, ha="left", va=MID, zorder=8)
for v in (80, 40, 0):
    ax_sto.text(label_x, v, f"{v:.2f}", color=LABEL, fontsize=4.8, ha="left", va=MID)
    ax_sto.text((60 - X0_PX) / BAR_PX, v, f"{v:.2f}", color=LABEL, fontsize=4.8, ha="right", va=MID)
for pos, txt in zip(date_ticks, date_labels):
    bold = txt in ("May", "Jun", "Jul")
    ax_sto.text(pos, -27.3, txt, color="#c8cad0" if bold else LABEL, fontsize=4.8,
                fontweight="semibold" if bold else "normal", ha="center", va=MID)

# chrome drawn in pixels on top of the panes
ax_px = fig.add_axes([0, 0, 1, 1])
ax_px.set_xlim(0, W)
ax_px.set_ylim(H, 0)
ax_px.axis("off")
ax_px.patch.set_visible(False)

for y in (106, 1033, 1194, 1228):
    ax_px.plot([PANEL_L, PANEL_R], [y, y], color="#2a2c38", lw=1.4 * PX)
ax_px.add_patch(Rectangle((PANEL_L, 27), PANEL_R - PANEL_L, 1341, fill=False, ec="#2c2c2c", lw=1.6 * PX))

ax_px.text(10, 15.5, "Tickmill created with TradingView.com, Jun 24, 2026 09:44 UTC+2",
           color="#d4d4d4", fontsize=4.25, ha="left", va=MID)

# status table
for k, (head, cell, fill) in enumerate(zip(table_header, table_row, table_row_colors)):
    x0, x1 = table_edges[k], table_edges[k + 1]
    ax_px.add_patch(Rectangle((x0, 37), x1 - x0 - 1, 25.5, fc="#363a45", ec="none"))
    ax_px.add_patch(Rectangle((x0, 63.5), x1 - x0 - 1, 26.5, fc=fill, ec="none"))
    ax_px.text((x0 + x1) / 2, 50, head, color="#d1d4dc", fontsize=5.2, ha="center", va=MID)
    ax_px.text((x0 + x1) / 2, 77, cell, color="#e6e7ea", fontsize=5.2, ha="center", va=MID)

# currency box
ax_px.add_patch(FancyBboxPatch((2592, 32), 64, 23, boxstyle="round,pad=2,rounding_size=5", fc="#111111", ec="#2c2c2c", lw=1.4 * PX))
ax_px.text(2599, 43.5, "USD", color="#d1d4dc", fontsize=4.9, ha="left", va=MID)
ax_px.text(2596, 66.7, "0.00000", color=LABEL, fontsize=4.8, ha="left", va=MID)
ax_px.text(2596, 98.7, "\u22120.50000", color=LABEL, fontsize=4.8, ha="left", va=MID)

# last price tag
ax_px.add_patch(Rectangle((2586, 786.5), 66, 30, fc="#ff0000", ec="none"))
ax_px.text(2619, 794.5, f"{last_price:.5f}", color="white", fontsize=4.8, ha="center", va=MID)
ax_px.text(2619, 808.5, "01:15:26", color="white", fontsize=4.8, ha="center", va=MID)

for cx, txt in ((40, "Z"), (2625, "A"), (2704, "B")):
    ax_px.add_patch(Circle((cx, 1355), 9.5, fc="#1c1c1c", ec="none"))
    ax_px.text(cx, 1355.5, txt, color="#8a8a8a", fontsize=4, ha="center", va=MID)

# logo
logo_col = "#e4e4e4"
ax_px.add_patch(Polygon([(12, 1391), (27, 1391), (27, 1409), (20, 1409), (20, 1398), (12, 1398)], fc=logo_col, ec="none"))
ax_px.add_patch(Circle((31, 1394.5), 3.4, fc=logo_col, ec="none"))
ax_px.add_patch(Polygon([(33, 1391), (41.5, 1391), (35, 1409), (26.5, 1409)], fc=logo_col, ec="none"))
ax_px.text(49, 1399.5, "TradingView", color=logo_col, fontsize=7.3, fontweight="semibold", ha="left", va=MID)

fig.savefig("out.png", dpi=DPI, facecolor=BG)
